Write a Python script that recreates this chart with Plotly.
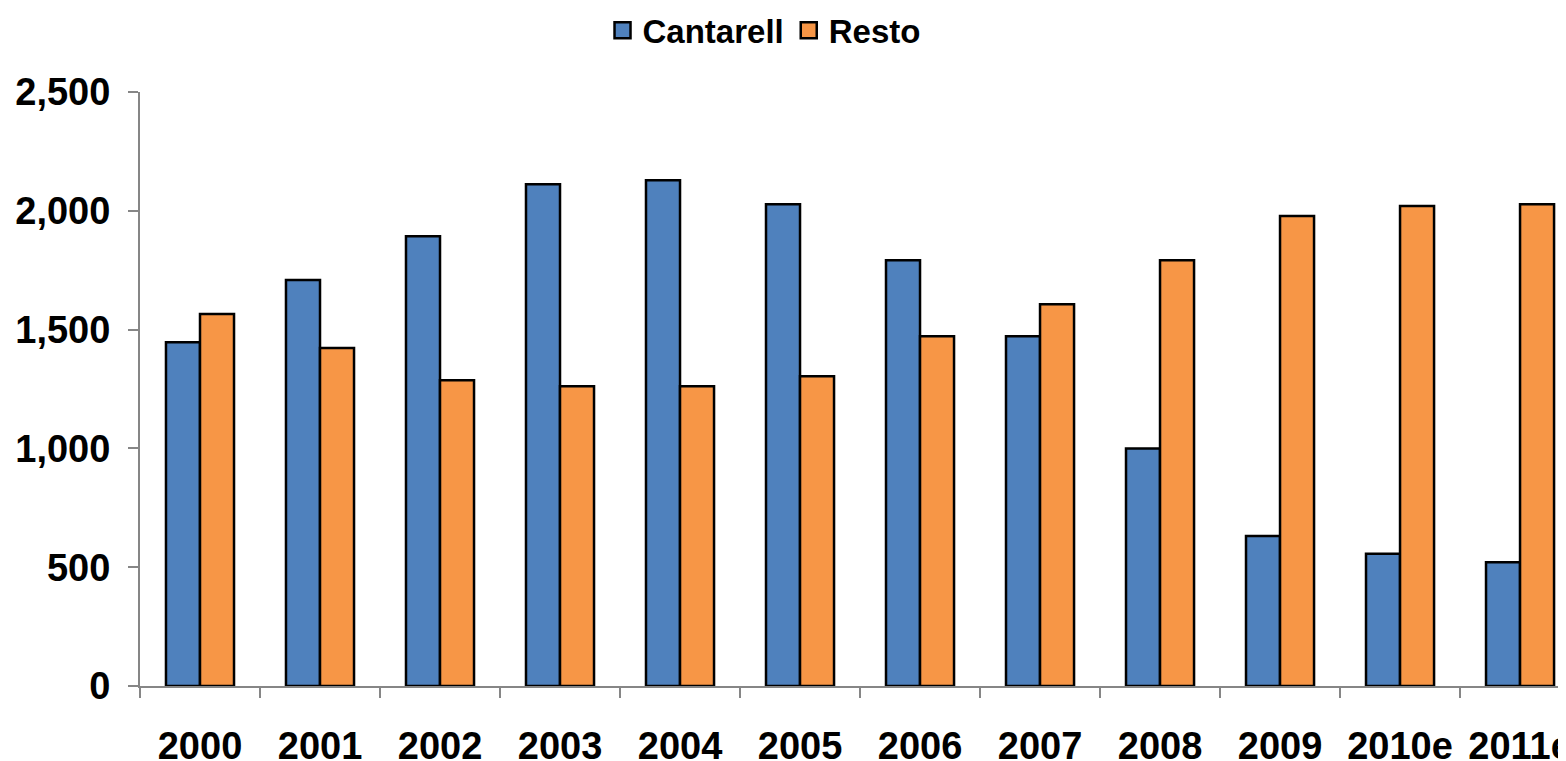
import plotly.graph_objects as go

categories = ["2000", "2001", "2002", "2003", "2004", "2005", "2006", "2007", "2008", "2009", "2010e", "2011e"]
cantarell = [1447, 1709, 1893, 2112, 2129, 2028, 1792, 1472, 1000, 631, 557, 521]
resto = [1566, 1423, 1287, 1262, 1262, 1304, 1472, 1607, 1792, 1978, 2020, 2028]
y_ticks = [0, 500, 1000, 1500, 2000, 2500]
y_tick_text = ["0", "500", "1,000", "1,500", "2,000", "2,500"]

FONT = "Arial, 'Liberation Sans', sans-serif"
AX = "#868686"
BLUE = "#4F81BD"
ORANGE = "#F79646"

fig = go.Figure()
fig.add_trace(go.Bar(name="Cantarell", x=categories, y=cantarell, showlegend=False,
                     marker=dict(color=BLUE, line=dict(color="black", width=2.5))))
fig.add_trace(go.Bar(name="Resto", x=categories, y=resto, showlegend=False,
                     marker=dict(color=ORANGE, line=dict(color="black", width=2.5))))
# legend entries with larger square symbols
for nm, col in [("Cantarell", BLUE), ("Resto", ORANGE)]:
    fig.add_trace(go.Scatter(name=nm, x=[None], y=[None], mode="markers",
                             marker=dict(symbol="square", size=19, color=col,
                                         line=dict(color="black", width=2.5))))

fig.update_layout(
    width=1558, height=753,
    margin=dict(l=132, r=0, t=84, b=75, autoexpand=False),
    paper_bgcolor="white", plot_bgcolor="white",
    barmode="group", bargap=0.433, bargroupgap=0,
    font=dict(family=FONT, color="black", size=38, weight="bold"),
    legend=dict(orientation="h", x=0.4376, xanchor="center", y=1.104, yanchor="middle",
                font=dict(family=FONT, size=33, weight="bold"), itemwidth=30,
                bgcolor="rgba(0,0,0,0)"),
    showlegend=True,
)
fig.update_xaxes(
    range=[-0.5, 11.383], type="category", automargin=False,
    showline=True, linecolor=AX, linewidth=2,
    ticks="outside", tickson="boundaries", ticklen=10, tickwidth=2, tickcolor=AX,
    showgrid=False, ticklabelstandoff=25,
    tickfont=dict(family=FONT, size=38, weight="bold", color="black"),
)
fig.update_yaxes(
    range=[0, 2500], automargin=False,
    tickvals=y_ticks, ticktext=y_tick_text,
    showline=True, linecolor=AX, linewidth=2,
    ticks="outside", ticklen=10, tickwidth=2, tickcolor=AX,
    showgrid=False, zeroline=False, ticklabelstandoff=10,
    tickfont=dict(family=FONT, size=38, weight="bold", color="black"),
)

fig.write_html("out.html")
